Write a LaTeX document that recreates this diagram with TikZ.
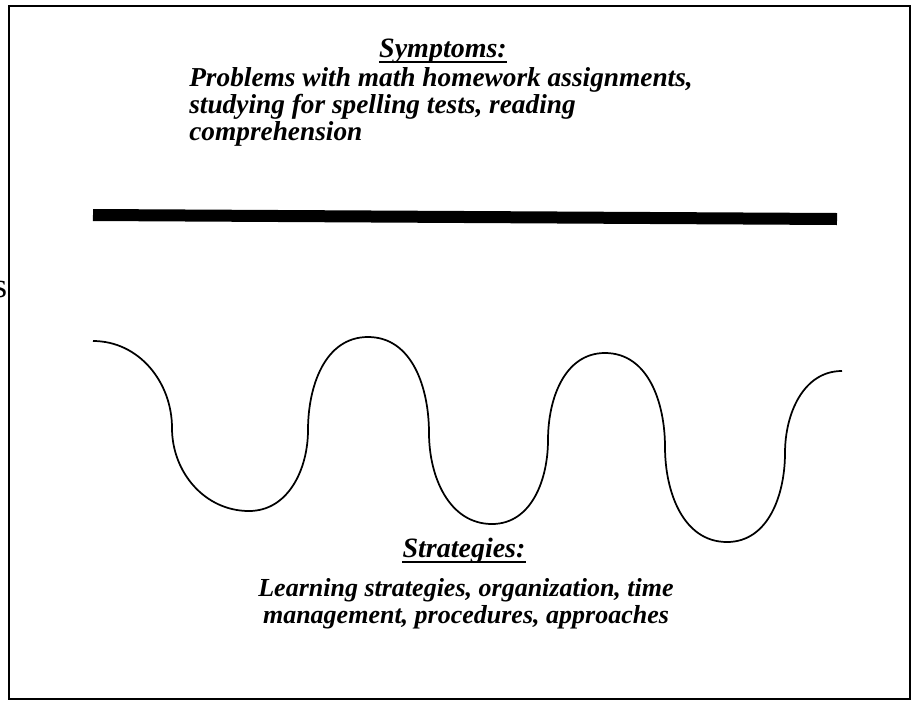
\documentclass[tikz,border=0pt]{standalone}
\usepackage{fontspec}
\setmainfont{Liberation Serif}
\begin{document}
\begin{tikzpicture}[x=0.75pt, y=-0.75pt,
    headtxt/.style={inner sep=0pt, font=\fontsize{21}{21}\selectfont\bfseries\itshape},
    symtxt/.style={inner sep=0pt, font=\fontsize{20.5}{20}\selectfont\bfseries\itshape},
    strattxt/.style={inner sep=0pt, font=\fontsize{19.5}{20}\selectfont\bfseries\itshape},
    uline/.style={line width=1.6pt}]
  \useasboundingbox (0,0) rectangle (917,700);
  \draw[line width=1.5pt] (9,6) rectangle (910,699);
  \node[anchor=base east, inner sep=0pt, font=\fontsize{26}{28}\selectfont] (cut) at (7.5,297) {s};
  % symptoms
  \node[headtxt, anchor=base] (symhead) at (443,57) {Symptoms:};
  \draw[uline] ([yshift=-3.6pt]symhead.base west) -- ([yshift=-3.6pt]symhead.base east);
  \node[symtxt, anchor=base west, align=left] (symtext) at (189,140) {Problems with math homework assignments,\\ studying for spelling tests, reading\\ comprehension};
  \draw[line width=9pt] (93,215) -- (837,219);
  % wave
  \coordinate (w0) at (93,341);
  \coordinate (w1) at (172,428);
  \coordinate (w2) at (249,511);
  \coordinate (w3) at (308,430);
  \coordinate (w4) at (368,337);
  \coordinate (w5) at (429,433);
  \coordinate (w6) at (492,524);
  \coordinate (w7) at (548,440);
  \coordinate (w8) at (605,353);
  \coordinate (w9) at (665,447);
  \coordinate (w10) at (727,542);
  \coordinate (w11) at (785,453);
  \coordinate (w12) at (842,371);
  \draw[line width=1.3pt] (w0) to[out=0,in=90] (w1) to[out=-90,in=180] (w2)
    to[out=0,in=-90] (w3) to[out=90,in=180] (w4) to[out=0,in=90] (w5)
    to[out=-90,in=180] (w6) to[out=0,in=-90] (w7) to[out=90,in=180] (w8)
    to[out=0,in=90] (w9) to[out=-90,in=180] (w10) to[out=0,in=-90] (w11)
    to[out=90,in=180] (w12);
  % strategies
  \node[headtxt, anchor=base] (strathead) at (464,557) {Strategies:};
  \draw[uline] ([yshift=-3.6pt]strathead.base west) -- ([yshift=-3.6pt]strathead.base east);
  \node[strattxt, anchor=base, align=center] (strattext) at (466,623) {Learning strategies, organization, time\\ management, procedures, approaches};
\end{tikzpicture}
\end{document}
